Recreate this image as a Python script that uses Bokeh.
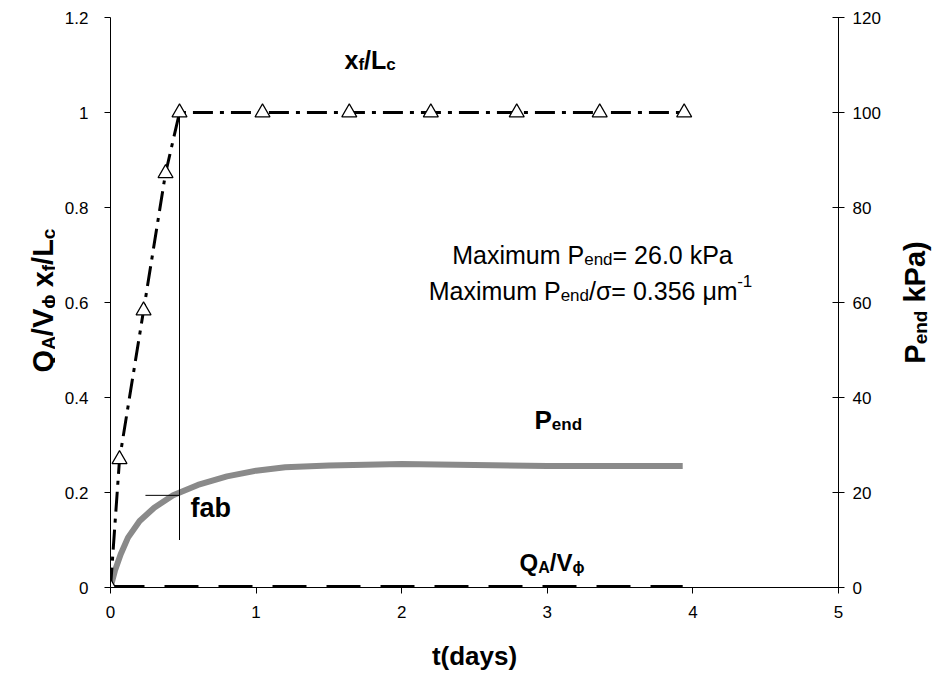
import math
from bokeh.plotting import figure
from bokeh.layouts import row
from bokeh.models import Range1d, LinearAxis, FixedTicker, Label, CustomJSTickFormatter
from bokeh.core.properties import value
from bokeh.embed import file_html
from bokeh.resources import INLINE

# ---------------- data ----------------
t_xf = [0.0, 0.062, 0.227, 0.378, 0.474, 1.044, 1.64, 2.20, 2.79, 3.36, 3.94]
xf_Lc = [0.0, 0.27, 0.583, 0.872, 1.0, 1.0, 1.0, 1.0, 1.0, 1.0, 1.0]

t_q = [0.0, 3.93]
qa_vphi = [0.0, 0.0]

t_p = [0.0, 0.03, 0.07, 0.12, 0.2, 0.3, 0.43, 0.6, 0.8, 1.0, 1.2, 1.5, 2.0, 2.5, 3.0, 3.5, 3.93]
p_end = [0.0, 3.5, 7.0, 10.5, 14.0, 16.8, 19.4, 21.6, 23.4, 24.6, 25.3, 25.7, 26.0, 25.8, 25.6, 25.6, 25.6]

fab_t = [0.474, 0.474]
fab_v = [0.10, 1.0]
fab_h_t = [0.24, 0.474]
fab_h_v = [0.194, 0.194]

x_ticks = [0, 1, 2, 3, 4, 5]
y_ticks = [0, 0.2, 0.4, 0.6, 0.8, 1.0, 1.2]
y_tick_labels = ["0", "0.2", "0.4", "0.6", "0.8", "1", "1.2"]
y2_ticks = [0, 20, 40, 60, 80, 100, 120]

FONT = "Liberation Sans"

# ---------------- layout geometry (page pixels) ----------------
W, H = 935, 688
LS, RS = 55, 50                      # side strips for rotated titles
FL, FR, FT, FB = 110, 838, 17, 587   # frame edges in page pixels
MW = W - LS - RS

p = figure(width=MW, height=H, x_range=Range1d(0, 5), y_range=Range1d(0, 1.2),
           output_backend="svg", toolbar_location=None, title=None,
           min_border_left=FL - LS, min_border_right=W - RS - FR,
           min_border_top=FT, min_border_bottom=H - FB)
p.extra_y_ranges = {"p": Range1d(0, 120)}
p.grid.visible = False
p.outline_line_color = None
p.background_fill_color = "white"
p.border_fill_color = "white"


def style_axis(ax, tin, tout, standoff):
    ax.axis_line_color = "black"
    ax.axis_line_width = 1
    ax.major_tick_line_color = "black"
    ax.major_tick_in = tin
    ax.major_tick_out = tout
    ax.minor_tick_line_color = None
    ax.major_label_text_font = FONT
    ax.major_label_text_font_size = "17px"
    ax.major_label_text_color = "black"
    ax.major_label_standoff = standoff


p.xaxis.ticker = FixedTicker(ticks=x_ticks)
style_axis(p.xaxis[0], 0, 6, 12)
p.xaxis.axis_label = "t(days)"
p.xaxis.axis_label_text_font = FONT
p.xaxis.axis_label_text_font_style = "bold"
p.xaxis.axis_label_text_font_size = "26px"
p.xaxis.axis_label_text_color = "black"
p.xaxis.axis_label_standoff = 20

p.yaxis.ticker = FixedTicker(ticks=y_ticks)
p.yaxis.formatter = CustomJSTickFormatter(args=dict(tvals=y_ticks, tlabels=y_tick_labels), code="""
let best = 0;
for (let i = 0; i < tvals.length; i++) { if (Math.abs(tvals[i]-tick) < Math.abs(tvals[best]-tick)) best = i; }
return tlabels[best];
""")
style_axis(p.yaxis[0], 0, 6, 16)

ax2 = LinearAxis(y_range_name="p", ticker=FixedTicker(ticks=y2_ticks))
style_axis(ax2, 6, 6, 8)
p.add_layout(ax2, "right")

# ---------------- glyphs ----------------
p.line(t_q, qa_vphi, line_color="black", line_width=5, line_dash="34 20")
p.line(t_p, p_end, y_range_name="p", line_color="#8a8a8a", line_width=6)
p.line(fab_t, fab_v, line_color="black", line_width=1)
p.line(fab_h_t, fab_h_v, line_color="black", line_width=1)
p.line(t_xf, xf_Lc, line_color="black", line_width=3, line_dash="20 7 4 7")
p.scatter(t_xf, xf_Lc, marker="triangle", size=15, fill_color="white",
          line_color="black", line_width=1.2)


def strip(width):
    # the row aligns this strip's frame with the main frame (page y FT..FB)
    f = figure(width=width, height=H, x_range=Range1d(0, width), y_range=Range1d(H - FB, H - FT),
               output_backend="svg", toolbar_location=None, title=None,
               min_border_left=0, min_border_right=0, min_border_top=0, min_border_bottom=0,
               x_axis_location=None, y_axis_location=None)
    f.grid.visible = False
    f.outline_line_color = None
    f.background_fill_color = "white"
    f.border_fill_color = "white"
    return f


left = strip(LS)
right = strip(RS)

# ---------------- rich text ----------------
REG = {' ': .278, 'M': .833, 'a': .556, 'x': .5, 'i': .222, 'm': .833, 'u': .556, 'P': .667,
       'e': .556, 'n': .556, 'd': .556, '=': .584, '.': .278, 'k': .5, '/': .278, 'σ': .6,
       'μ': .576, '-': .333}
BOLD = {' ': .278, 'Q': .778, 'A': .722, '/': .278, 'V': .667, 'x': .556, 'f': .333, 'L': .611,
        'c': .556, 'P': .667, 'e': .556, 'n': .611, 'd': .611, 'k': .556, 'a': .556, ')': .333,
        '(': .333, 'ϕ': .7, 'b': .611, 't': .333, 'y': .556, 's': .556}


def main_xy(px, py):
    return (px - FL) / (FR - FL) * 5.0, (FB - py) / (FB - FT) * 1.2


def left_xy(px, py):
    return px, H - py


def right_xy(px, py):
    return px - (W - RS), H - py


def rich(fig, conv, parts, x, y, size, bold, align="left", angle=0.0, sub=0.67):
    met = BOLD if bold else REG
    items = []
    for txt, kind in parts:
        fs = size if kind == "n" else round(size * sub)
        lead = len(txt) - len(txt.lstrip(" "))
        lead_w = lead * met[' '] * fs
        core = txt.lstrip(" ")
        w = sum(met.get(c, 0.556) for c in core) * fs
        shift = 0.0
        if kind == "sub":
            shift = 0.2 * size
        elif kind == "sup":
            shift = -0.4 * size
        items.append((core, fs, lead_w, w, shift))
    total = sum(it[2] + it[3] for it in items)
    style = "bold" if bold else "normal"
    if angle == 0:
        pos = x - total / 2 if align == "center" else x
        for txt, fs, lw, w, shift in items:
            pos += lw
            lx, ly = conv(pos, y + shift)
            fig.add_layout(Label(x=lx, y=ly, text=txt, text_font=FONT,
                                 text_font_size=f"{fs}px", text_font_style=style,
                                 text_align="left", text_baseline="alphabetic",
                                 text_color="black"))
            pos += w
    else:
        pos = y + total / 2 if align == "center" else y
        for txt, fs, lw, w, shift in items:
            pos -= lw
            lx, ly = conv(x + shift, pos)
            fig.text(x=[lx], y=[ly], text=[txt], angle=math.pi / 2,
                     text_font=value(FONT), text_font_size=value(f"{fs}px"),
                     text_font_style=style, text_align="left",
                     text_baseline="alphabetic", text_color="black")
            pos -= w


rich(p, main_xy, [("x", "n"), ("f", "sub"), ("/L", "n"), ("c", "sub")], 344, 59, 25, True)
rich(p, main_xy, [("P", "n"), ("end", "sub")], 534, 419, 26, True)
rich(p, main_xy, [("Q", "n"), ("A", "sub"), ("/V", "n"), ("ϕ", "sub")], 519, 562, 24, True)
rich(p, main_xy, [("fab", "n")], 190, 507, 27, True)
rich(p, main_xy, [("Maximum P", "n"), ("end", "sub"), ("= 26.0 kPa", "n")], 592, 254, 25, False,
     align="center")
rich(p, main_xy, [("Maximum P", "n"), ("end", "sub"), ("/σ= 0.356 μm", "n"), ("-1", "sup")], 590, 290, 25,
     False, align="center")
rich(left, left_xy, [("Q", "n"), ("A", "sub"), ("/V", "n"), ("ϕ", "sub"), (" x", "n"), ("f", "sub"),
                     ("/L", "n"), ("c", "sub")], 42, 300, 29, True, align="center", angle=1)
rich(right, right_xy, [("P", "n"), ("end", "sub"), (" kPa)", "n")], 914, 302, 29, True,
     align="center", angle=1)

layout = row(left, p, right, spacing=0)
open("out.html", "w").write(file_html(layout, INLINE))
